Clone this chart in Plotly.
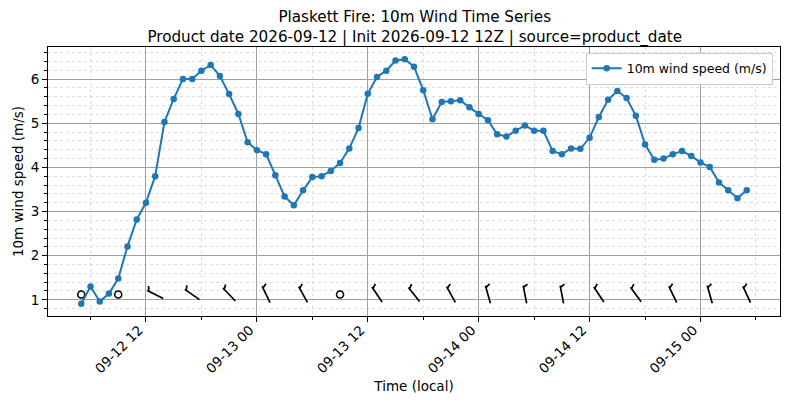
import numpy as np
import pandas as pd
import plotly.graph_objects as go

# hourly 10m wind speed (m/s), local time, starting 2026-09-12 05:00
start_time = "2026-09-12 05:00"
wind_speed = [
    0.91, 1.30, 0.96, 1.14, 1.48, 2.21, 2.82, 3.20, 3.80, 5.03, 5.55, 6.00,
    6.00, 6.19, 6.32, 6.07, 5.66, 5.21, 4.57,
    4.39, 4.30, 3.82, 3.34, 3.14, 3.48, 3.78, 3.80, 3.92, 4.10, 4.43, 4.89,
    5.67, 6.05, 6.19, 6.42, 6.45, 6.28, 5.75, 5.09, 5.48, 5.50, 5.52, 5.36,
    5.21, 5.07, 4.75, 4.70, 4.83, 4.95, 4.83, 4.83, 4.37, 4.30, 4.43, 4.42,
    4.67, 5.14, 5.53, 5.73, 5.57, 5.17, 4.52, 4.17, 4.20, 4.30, 4.37, 4.26,
    4.11, 4.01, 3.66, 3.48, 3.30, 3.48,
]
# barbs every 4 h (direction wind blows from, deg); None = calm circle
barb_every = 4
barb_dir = [None, None, 297, 305, 316,
            334, 331, None, 326, 322, 331,
            344, 349, 349, 326, 324, 334,
            344, 335]
barb_level = 1.12

title = ("Plaskett Fire: 10m Wind Time Series<br>"
         "Product date 2026-09-12 | Init 2026-09-12 12Z | source=product_date")

times = pd.date_range(start_time, periods=len(wind_speed), freq="h")
barb_times = times[::barb_every]

W, H = 790, 409
ml, mr, mt, mb = 48, 10, 47, 93
x_range = [pd.Timestamp("2026-09-12 01:24"), pd.Timestamp("2026-09-15 08:36")]
y_range = [0.633, 6.727]

# pixel scales so the barbs keep their shape on screen
plot_w = W - ml - mr
plot_h = H - mt - mb
px_per_ms = plot_w / ((x_range[1] - x_range[0]).total_seconds() * 1000)
px_per_unit = plot_h / (y_range[1] - y_range[0])

L = 18  # staff length, px
bx, by = [], []
calm_x = []
for t, d in zip(barb_times, barb_dir):
    if d is None:
        calm_x.append(t)
        continue
    a = np.deg2rad(d)
    ux, uy = np.sin(a), np.cos(a)
    qx, qy = uy, -ux  # clockwise side for the half barb
    s = L / 2 - 1.8
    pts = [
        (-ux * L / 2, -uy * L / 2),
        (ux * L / 2, uy * L / 2),
        (ux * s, uy * s),
        (ux * s + qx * 4.5 + ux * 2.5, uy * s + qy * 4.5 + uy * 2.5),
    ]
    for dx, dy in pts:
        bx.append(t + pd.Timedelta(milliseconds=dx / px_per_ms))
        by.append(barb_level + dy / px_per_unit)
    bx.append(None)
    by.append(None)

fig = go.Figure()
fig.add_trace(go.Scatter(
    x=bx, y=by, mode="lines", line=dict(color="black", width=1.7),
    showlegend=False, hoverinfo="skip"))
fig.add_trace(go.Scatter(
    x=calm_x, y=[barb_level] * len(calm_x), mode="markers",
    marker=dict(symbol="circle-open", size=7, color="black", line=dict(width=1.6)),
    showlegend=False, hoverinfo="skip"))
fig.add_trace(go.Scatter(
    x=times, y=wind_speed, mode="lines+markers", name="10m wind speed (m/s)",
    line=dict(color="#1f77b4", width=2),
    marker=dict(color="#1f77b4", size=6.5)))

axis_common = dict(
    showline=True, linecolor="black", linewidth=1, mirror=True,
    ticks="outside", ticklen=5, tickcolor="black", tickwidth=1,
    showgrid=True, gridcolor="#a0a0a0", gridwidth=0.8, zeroline=False,
    tickfont=dict(size=13.5, color="black"), automargin=False,
)
fig.update_xaxes(
    type="date", range=x_range, tick0="2026-09-12 00:00", dtick=43200000,
    tickformat="%m-%d %H", tickangle=-45,
    ticklabelshift=-7, ticklabelstandoff=-5,
    title=dict(text="Time (local)", font=dict(size=13.5), standoff=6),
    minor=dict(dtick=21600000, ticks="outside", ticklen=3, tickcolor="black",
               showgrid=True, gridcolor="#dcdcdc", griddash="dot", gridwidth=0.7),
    **axis_common)
fig.update_yaxes(
    range=y_range, tick0=0, dtick=1,
    title=dict(text="10m wind speed (m/s)", font=dict(size=13.5), standoff=3),
    minor=dict(dtick=0.2, ticks="outside", ticklen=3, tickcolor="black",
               showgrid=True, gridcolor="#dcdcdc", griddash="dot", gridwidth=0.7),
    **axis_common)

fig.update_layout(
    width=W, height=H,
    margin=dict(l=ml, r=mr, t=mt, b=mb),
    paper_bgcolor="white", plot_bgcolor="white",
    font=dict(family="DejaVu Sans", color="black"),
    title=dict(text=title, x=0.525, xanchor="center", yref="container",
               y=1 - 22 / H, yanchor="middle", font=dict(size=15.2)),
    legend=dict(x=0.990, y=0.979, xanchor="right", yanchor="top",
                bgcolor="white", bordercolor="#cccccc", borderwidth=1,
                font=dict(size=12.5)),
)

fig.write_html("out.html", config={"displayModeBar": False},
               post_script="document.body.style.margin='0';")
